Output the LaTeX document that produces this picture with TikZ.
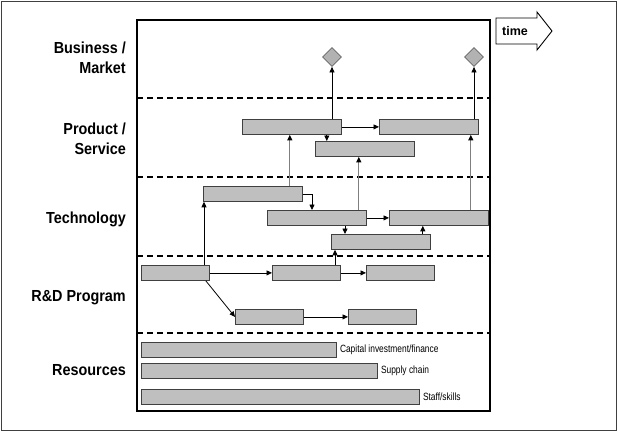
\documentclass[tikz,border=0pt]{standalone}
\usepackage{fontspec}
\setmainfont{Liberation Sans}
\newfontfamily\lanefont[FakeStretch=0.9]{Liberation Sans}
\newfontfamily\narrowfont[FakeStretch=0.8]{Liberation Sans}
\usetikzlibrary{arrows.meta,positioning,shapes.geometric}

\begin{document}
\begin{tikzpicture}[
  x=1pt,y=-1pt,
  bar/.style={draw=black!75,fill=black!25,line width=0.8pt,inner sep=0pt,minimum height=15pt,anchor=north west},
  wide/.style={bar,minimum width=99pt},
  short/.style={bar,minimum width=68pt},
  ms/.style={diamond,draw=black!60,fill=black!30,line width=0.8pt,inner sep=0pt,minimum width=19pt,minimum height=19pt},
  lane/.style={anchor=east,align=right,inner sep=0pt,font=\lanefont\fontsize{16}{20.5}\selectfont\bfseries},
  res/.style={inner sep=1pt,font=\narrowfont\fontsize{10.5}{12}\selectfont},
  sep/.style={line width=1.4pt,dash pattern=on 6pt off 4pt},
  arr/.style={line width=0.8pt,-{Triangle[length=5.5pt,width=5pt]}},
  garr/.style={arr,draw=black!50,line width=1pt,-{Triangle[length=5.5pt,width=5pt,black]}}
]
\useasboundingbox (0,0) rectangle (618,434);
\draw[black!75,line width=1pt] (1,1) rectangle (616,430);

\draw[line width=2.5pt] (137,20) rectangle (490,411);
\foreach \y in {98,177,256,333}
  \draw[sep] (137,\y) -- (490,\y);

\node[lane] (biz) at (126,58) {Business /\\Market};
\node[lane] (prod) at (126,139) {Product /\\Service};
\node[lane] (tech) at (126,219) {Technology};
\node[lane] (rnd) at (126,298) {R\&D Program};
\node[lane] (rsc) at (126,370) {Resources};

\node[font=\fontsize{12.5}{14}\selectfont\bfseries] (time) at (515,31) {time};
\draw[line width=0.9pt] (496,18) -- (537,18) -- (537,12) -- (552,31) -- (537,50) -- (537,44) -- (496,44) -- cycle;

\node[ms] (m1) at (332,57) {};
\node[ms] (m2) at (474,57) {};

\node[wide] (A) at (242,119) {};
\node[wide] (B) at (379,119) {};
\node[wide] (C) at (315,141) {};

\node[wide] (D) at (203,186) {};
\node[wide] (E) at (267,210) {};
\node[wide] (F) at (389,210) {};
\node[wide] (G) at (331,234) {};

\node[short] (H) at (141,265) {};
\node[short] (I) at (272,265) {};
\node[short] (J) at (366,265) {};
\node[short] (K) at (235,309) {};
\node[short] (L) at (348,309) {};

\node[bar,minimum width=195pt] (R1) at (141,342) {};
\node[bar,minimum width=236pt] (R2) at (141,363) {};
\node[bar,minimum width=278pt] (R3) at (141,389) {};
\node[res,right=2pt of R1] (r1) {Capital investment/finance};
\node[res,right=2pt of R2] (r2) {Supply chain};
\node[res,right=2pt of R3] (r3) {Staff/skills};

\draw[arr] (A.north -| m1) -- (m1.south);
\draw[arr] (B.north -| m2) -- (m2.south);
\draw[arr] (A.east) -- (B.west);
\draw[arr] ([xshift=-15pt]A.south east) -- ([xshift=-15pt]A.south east |- C.north);
\draw[garr] ([xshift=-13pt]D.north east) -- ([xshift=-13pt]D.north east |- A.south);
\draw[arr] (D.east) -| ([xshift=45pt]E.north west);
\draw[garr] ([xshift=-8pt]E.north east) -- ([xshift=-8pt]E.north east |- C.south);
\draw[arr] (E.east) -- (F.west);
\draw[arr] ([xshift=14pt]G.north west |- E.south) -- ([xshift=14pt]G.north west);
\draw[arr] ([xshift=-8pt]G.north east) -- ([xshift=-8pt]G.north east |- F.south);
\draw[garr] ([xshift=-18pt]F.north east) -- ([xshift=-18pt]F.north east |- B.south);
\draw[arr] ([xshift=1pt]D.south west |- H.north) -- ([xshift=1pt]D.south west);
\draw[arr] (H.east) -- (I.west);
\draw[arr] ([xshift=4pt]G.south west |- I.north) -- ([xshift=4pt]G.south west);
\draw[arr] (I.east) -- (J.west);
\draw[arr] ([xshift=-4pt]H.south east) -- (K.west);
\draw[arr] (K.east) -- (L.west);
\end{tikzpicture}
\end{document}
